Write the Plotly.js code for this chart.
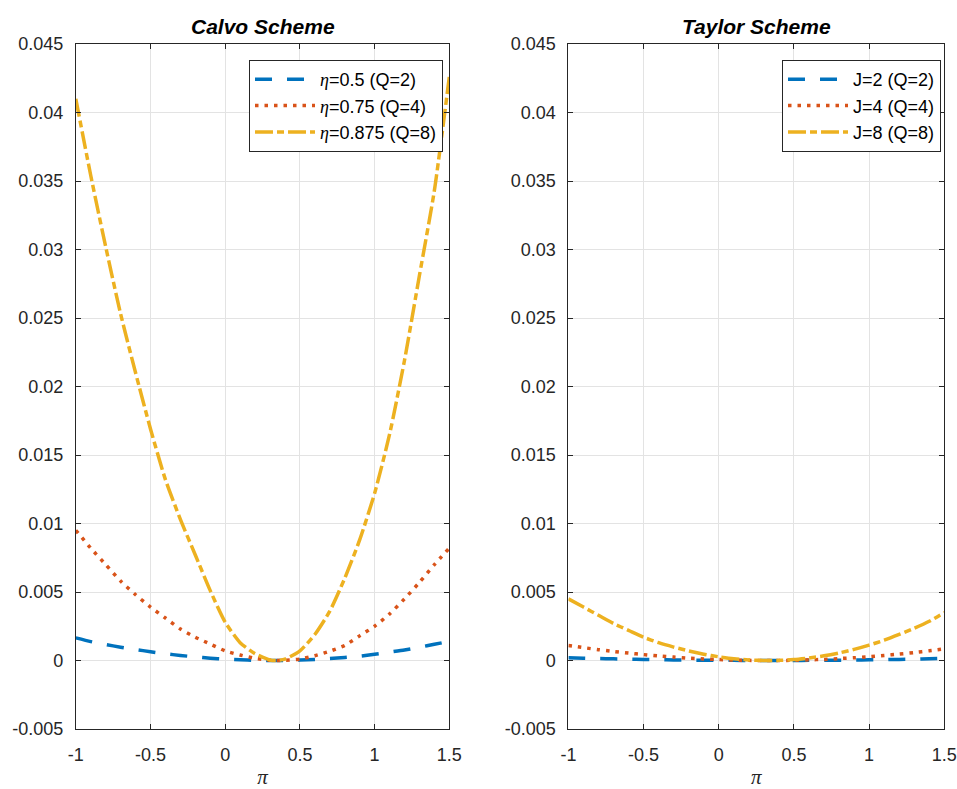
<!DOCTYPE html>
<html>
<head>
<meta charset="utf-8">
<script src="https://cdn.plot.ly/plotly-3.0.1.min.js"></script>
<style>html,body{margin:0;padding:0;background:#fff;}#chart{width:957px;height:789px;}</style>
</head>
<body>
<div id="chart"></div>
<script>
// ---- data ----
const piGrid = [-1,-0.9,-0.8,-0.7,-0.6,-0.5,-0.4,-0.3,-0.2,-0.1,0,0.1,0.2,0.3,0.34,0.4,0.5,0.6,0.7,0.8,0.9,1.0,1.1,1.2,1.3,1.4,1.5];

const calvoEta05   = [0.00165,0.00138,0.00117,0.00097,0.0008,0.00064,0.00049,0.00037,0.00026,0.00017,0.0001,0.00005,0.00002,0,0,0,0.00003,0.00007,0.00014,0.00022,0.00032,0.00045,0.00061,0.00077,0.00097,0.00118,0.0014];
const calvoEta075  = [0.0095,0.0082,0.0070,0.0058,0.0048,0.0039,0.0031,0.0023,0.0017,0.0012,0.0007,0.0004,0.00015,0.00002,0,0.00002,0.0001,0.00035,0.00068,0.0011,0.0018,0.0025,0.0034,0.0045,0.0057,0.0070,0.0082];
const calvoEta0875 = [0.0410,0.0354,0.0302,0.0253,0.0210,0.0169,0.0132,0.0103,0.0077,0.0051,0.0028,0.0013,0.0005,0.00004,0,0.0001,0.0007,0.0019,0.0036,0.0060,0.0088,0.0122,0.0165,0.0219,0.0281,0.0343,0.0426];

const taylorJ2 = [0.0002,0.00017,0.00014,0.00012,0.0001,0.00008,0.00006,0.00004,0.00003,0.00002,0.00001,0.00001,0,0,0,0,0,0.00001,0.00002,0.00002,0.00004,0.00005,0.00006,0.00008,0.0001,0.00013,0.00015];
const taylorJ4 = [0.0011,0.00094,0.00079,0.00066,0.00054,0.00043,0.00033,0.00025,0.00017,0.00011,0.00007,0.00003,0.00001,0,0,0,0.00002,0.00005,0.00008,0.00014,0.0002,0.00028,0.00037,0.00047,0.00058,0.00071,0.00085];
const taylorJ8 = [0.0045,0.0039,0.0033,0.0027,0.0022,0.0017,0.0013,0.00098,0.0007,0.00046,0.00027,0.00013,0.00004,0,0,0.00001,0.00007,0.00018,0.00034,0.00055,0.00081,0.00112,0.00148,0.0019,0.00235,0.00286,0.0035];

const calvoNames  = ['=0.5 (Q=2)', '=0.75 (Q=4)', '=0.875 (Q=8)'];
const taylorNames = ['J=2 (Q=2)', 'J=4 (Q=4)', 'J=8 (Q=8)'];
const panelTitles = ['Calvo Scheme', 'Taylor Scheme'];

const xTickVals = [-1,-0.5,0,0.5,1,1.5];
const xTickText = ['-1','-0.5','0','0.5','1','1.5'];
const yTickVals = [-0.005,0,0.005,0.01,0.015,0.02,0.025,0.03,0.035,0.04,0.045];
const yTickText = ['-0.005','0','0.005','0.01','0.015','0.02','0.025','0.03','0.035','0.04','0.045'];

// ---- styling ----
const colors = ['#0072BD', '#D95319', '#EDB120'];
const dashes = ['17px,15px', '3.5px,6px', '18px,4px,7px,4px'];
const LW = 3.5;
const FONT = 'Liberation Sans, Arial, Helvetica, sans-serif';
const eta = '<span style="font-family:Liberation Serif;font-style:italic">η</span>';

const calvoSeries = [calvoEta05, calvoEta075, calvoEta0875];
const taylorSeries = [taylorJ2, taylorJ4, taylorJ8];

const traces = [];
calvoSeries.forEach((ys, i) => {
  traces.push({
    x: piGrid, y: ys, type: 'scatter', mode: 'lines',
    name: eta + calvoNames[i],
    line: {color: colors[i], width: LW, dash: dashes[i], shape: 'spline', smoothing: 0.6},
    xaxis: 'x', yaxis: 'y', legend: 'legend'
  });
});
taylorSeries.forEach((ys, i) => {
  traces.push({
    x: piGrid, y: ys, type: 'scatter', mode: 'lines',
    name: taylorNames[i],
    line: {color: colors[i], width: LW, dash: dashes[i], shape: 'spline', smoothing: 0.6},
    xaxis: 'x2', yaxis: 'y2', legend: 'legend2'
  });
});

function xAxis(domain, anchor) {
  return {
    domain: domain, anchor: anchor, range: [-1, 1.5],
    tickvals: xTickVals, ticktext: xTickText,
    ticks: 'inside', ticklen: 5, tickcolor: '#262626', tickwidth: 1,
    showline: true, linecolor: '#262626', linewidth: 1, mirror: 'allticks',
    showgrid: true, gridcolor: '#e3e3e3', gridwidth: 1, zeroline: false,
    tickfont: {family: FONT, size: 18, color: '#262626'},
    ticklabelstandoff: 9,
    title: {text: '<span style="font-family:Liberation Serif;font-style:italic">π</span>',
            font: {family: 'Liberation Serif', size: 21, color: '#262626'}, standoff: 5},
    fixedrange: true
  };
}
function yAxis(domain, anchor) {
  return {
    domain: domain, anchor: anchor, range: [-0.005, 0.045],
    tickvals: yTickVals, ticktext: yTickText,
    ticks: 'inside', ticklen: 5, tickcolor: '#262626', tickwidth: 1,
    showline: true, linecolor: '#262626', linewidth: 1, mirror: 'allticks',
    showgrid: true, gridcolor: '#e3e3e3', gridwidth: 1, zeroline: false,
    tickfont: {family: FONT, size: 18, color: '#262626'},
    ticklabelstandoff: 8,
    fixedrange: true
  };
}

const W = 957, H = 789;
const yDom = [1 - 729 / H, 1 - 44 / H];
const legendStyle = {
  bgcolor: '#ffffff', bordercolor: '#262626', borderwidth: 1,
  font: {family: FONT, size: 18, color: '#000'},
  xanchor: 'right', yanchor: 'top', itemwidth: 60, tracegroupgap: 0
};

const layout = {
  width: W, height: H,
  margin: {l: 0, r: 0, t: 0, b: 0, autoexpand: false},
  paper_bgcolor: '#ffffff', plot_bgcolor: '#ffffff',
  showlegend: true,
  xaxis: xAxis([75.8 / W, 449.3 / W], 'y'),
  yaxis: yAxis(yDom, 'x'),
  xaxis2: xAxis([568.4 / W, 944.3 / W], 'y2'),
  yaxis2: yAxis(yDom, 'x2'),
  legend: Object.assign({}, legendStyle, {x: 443 / W, y: 1 - 60 / H}),
  legend2: Object.assign({}, legendStyle, {x: 941 / W, y: 1 - 60 / H}),
  annotations: [
    {text: panelTitles[0], xref: 'paper', yref: 'paper', x: (75.8 + 449.3) / 2 / W, y: 1 - 27 / H,
     xanchor: 'center', yanchor: 'middle', showarrow: false,
     font: {family: FONT, size: 21, color: '#000', weight: 'bold', style: 'italic'}},
    {text: panelTitles[1], xref: 'paper', yref: 'paper', x: (568.4 + 944.3) / 2 / W, y: 1 - 27 / H,
     xanchor: 'center', yanchor: 'middle', showarrow: false,
     font: {family: FONT, size: 21, color: '#000', weight: 'bold', style: 'italic'}}
  ]
};

Plotly.newPlot('chart', traces, layout, {displayModeBar: false, staticPlot: true});
</script>
</body>
</html>
